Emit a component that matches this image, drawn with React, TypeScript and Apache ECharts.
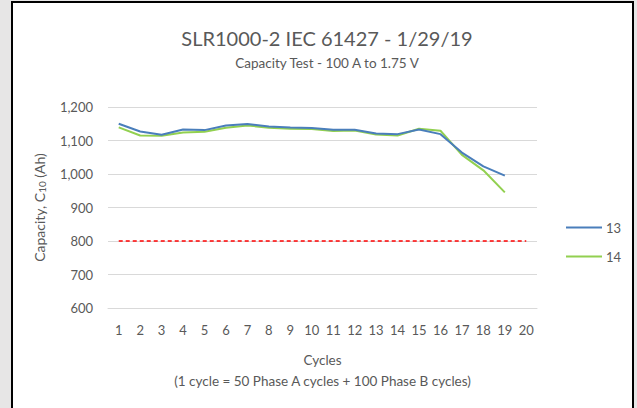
import React, { useEffect, useRef } from "react";
import * as echarts from "echarts";

const cycles = ["1","2","3","4","5","6","7","8","9","10","11","12","13","14","15","16","17","18","19","20"];
const series13 = [1150, 1127, 1117, 1133, 1131, 1145, 1149, 1142, 1139, 1137, 1132, 1132, 1121, 1119, 1133, 1119, 1064, 1023, 995, null];
const series14 = [1139, 1115, 1114, 1124, 1126, 1138, 1145, 1138, 1135, 1134, 1128, 1130, 1118, 1115, 1135, 1129, 1057, 1011, 945, null];
const limit = [800, 800, 800, 800, 800, 800, 800, 800, 800, 800, 800, 800, 800, 800, 800, 800, 800, 800, 800, 800];
const yTicks = { min: 600, max: 1200, interval: 100 };

const FONT = "Lato, 'Open Sans', sans-serif";
const GREY = "#595959";

export default function App() {
  const ref = useRef<HTMLDivElement>(null);
  useEffect(() => {
    if (!ref.current) return;
    const chart = echarts.init(ref.current, undefined, { renderer: "svg" });
    chart.setOption({
      animation: false,
      textStyle: { fontFamily: FONT },
      graphic: [
        {
          type: "rect",
          z: -10,
          silent: true,
          shape: { x: 12, y: 2, width: 621, height: 430 },
          style: { fill: "#ffffff", stroke: "#000000", lineWidth: 2 },
        },
      ],
      title: [
        {
          text: "SLR1000-2 IEC 61427 - 1/29/19",
          left: 322,
          top: 23,
          textAlign: "center",
          textStyle: { fontSize: 20, fontWeight: "normal", color: GREY, fontFamily: FONT },
        },
        {
          text: "Capacity Test - 100 A to 1.75 V",
          left: 322,
          top: 51,
          textAlign: "center",
          textStyle: { fontSize: 13.5, fontWeight: "normal", color: GREY, fontFamily: FONT },
        },
      ],
      legend: {
        orient: "vertical",
        left: 561,
        top: 216,
        itemWidth: 36,
        itemHeight: 2,
        itemGap: 16,
        icon: "rect",
        data: ["13", "14"],
        textStyle: { fontSize: 13, color: GREY, fontFamily: FONT, padding: [0, 0, 0, -1] },
      },
      grid: { left: 108, right: 100, top: 107, bottom: 100 },
      xAxis: {
        type: "category",
        data: cycles,
        boundaryGap: true,
        axisLine: { show: true, lineStyle: { color: "#d9d9d9", width: 1 } },
        axisTick: { show: false },
        axisLabel: { color: GREY, fontSize: 13, margin: 15, fontFamily: FONT },
        name: "Cycles\n(1 cycle = 50 Phase A cycles + 100 Phase B cycles)",
        nameLocation: "middle",
        nameGap: 41,
        nameTextStyle: { color: GREY, fontSize: 13.5, lineHeight: 21, fontFamily: FONT, verticalAlign: "top" },
      },
      yAxis: {
        type: "value",
        min: yTicks.min,
        max: yTicks.max,
        interval: yTicks.interval,
        axisLine: { show: false },
        axisTick: { show: false },
        splitLine: { lineStyle: { color: "#d9d9d9", width: 1 } },
        axisLabel: {
          color: GREY,
          fontSize: 13,
          margin: 15,
          fontFamily: FONT,
          formatter: (v: number) => v.toLocaleString("en-US"),
        },
        name: "Capacity, C{sub|10} (Ah)",
        nameLocation: "middle",
        nameGap: 61,
        nameRotate: 90,
        nameTextStyle: {
          color: GREY,
          fontSize: 14,
          fontFamily: FONT,
          rich: {
            sub: { fontSize: 10, color: GREY, verticalAlign: "bottom", padding: [6, 0, 0, 0], fontFamily: FONT },
          },
        },
      },
      series: [
        {
          name: "13",
          type: "line",
          data: series13,
          symbol: "none",
          lineStyle: { color: "#4a7ebb", width: 2 },
          itemStyle: { color: "#4a7ebb" },
          z: 3,
        },
        {
          name: "14",
          type: "line",
          data: series14,
          symbol: "none",
          lineStyle: { color: "#92d050", width: 2 },
          itemStyle: { color: "#92d050" },
          z: 2,
        },
        {
          name: "Limit",
          type: "line",
          data: limit,
          symbol: "none",
          lineStyle: { color: "#ff0000", width: 1.5, type: [4, 3] },
          itemStyle: { color: "#ff0000" },
          z: 1,
        },
      ],
    });
    return () => chart.dispose();
  }, []);
  return (
    <div style={{ position: "absolute", left: 0, top: 0, width: 637, height: 408, background: "#e7e6e6" }}>
      <div ref={ref} style={{ width: 637, height: 408 }} />
    </div>
  );
}
